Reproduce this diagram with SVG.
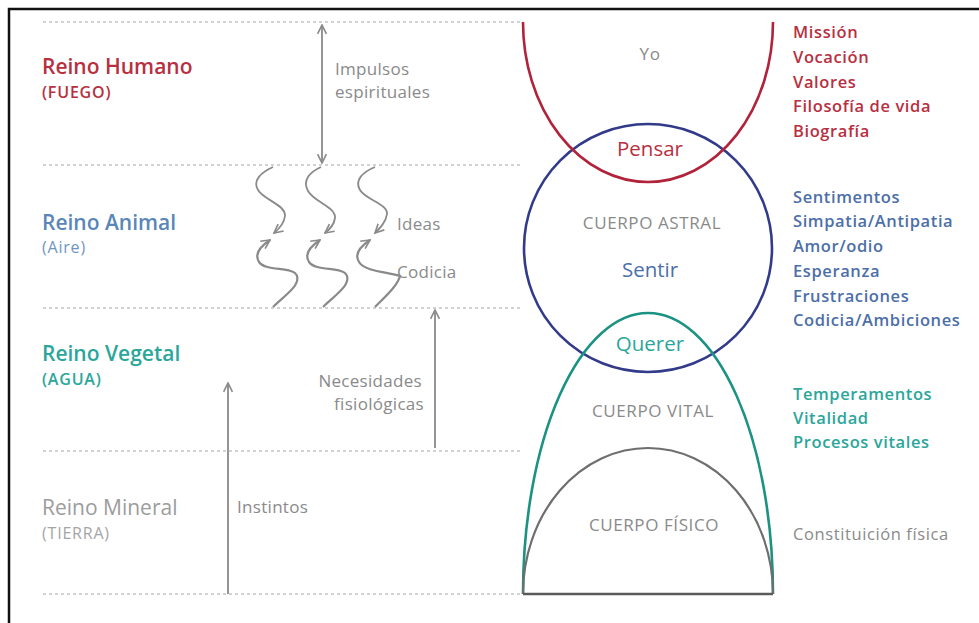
<svg xmlns="http://www.w3.org/2000/svg" width="979" height="623" viewBox="0 0 979 623">
<style>
text{font-family:"Open Sans","Liberation Sans",sans-serif}
.dot{stroke:#d2d2d2;stroke-width:2;stroke-dasharray:3 3;fill:none}
.arr{stroke:#8a8a8a;stroke-width:1.8;fill:none}
.kh{font-size:21px;font-weight:600}
.ks{font-size:16px;font-weight:600;letter-spacing:0.8px}
.lbl{font-size:17px;fill:#8a8a8a;letter-spacing:0.3px}
.body{font-size:17px;fill:#8a8a8a;text-anchor:middle;letter-spacing:0.6px}
.verb{font-size:20.5px;text-anchor:middle}
.lst{font-size:16.5px;font-weight:600;letter-spacing:0.6px}
.red{fill:#b8303f}
.blue{fill:#4d6fa8}
.teal{fill:#2ba69a}
</style>
<defs>
<marker id="ah" viewBox="0 0 10 10" refX="9" refY="5" markerWidth="11" markerHeight="11" markerUnits="userSpaceOnUse" orient="auto-start-reverse">
<path d="M1,1 L9,5 L1,9" fill="none" stroke="#8a8a8a" stroke-width="1.5"/>
</marker>
</defs>
<rect width="979" height="623" fill="#fff"/>
<g id="frame" stroke="#111" stroke-width="2.5" fill="none">
<path d="M9,623 L9,9 L979,9"/>
</g>
<g id="levels">
<line class="dot" x1="43" y1="22" x2="522" y2="22"/>
<line class="dot" x1="43" y1="165" x2="522" y2="165"/>
<line class="dot" x1="43" y1="308" x2="522" y2="308"/>
<line class="dot" x1="43" y1="451" x2="522" y2="451"/>
<line class="dot" x1="43" y1="594" x2="522" y2="594"/>
</g>
<g id="reino-humano"><text class="kh red" x="42" y="74">Reino Humano</text><text class="ks red" x="42" y="98">(FUEGO)</text></g>
<g id="reino-animal"><text class="kh" x="42" y="230" style="fill:#5a86b8">Reino Animal</text><text class="ks" x="42" y="253" style="fill:#6f95c2;font-weight:400">(Aire)</text></g>
<g id="reino-vegetal"><text class="kh teal" x="42" y="361">Reino Vegetal</text><text class="ks teal" x="42" y="385">(AGUA)</text></g>
<g id="reino-mineral"><text class="kh" x="42" y="515" style="fill:#9c9c9c;font-weight:400">Reino Mineral</text><text class="ks" x="42" y="539" style="fill:#a5a5a5;font-weight:400">(TIERRA)</text></g>
<g id="connectors">
<line class="arr" x1="322" y1="25" x2="322" y2="163" marker-start="url(#ah)" marker-end="url(#ah)"/>
<path class="arr" d="M273,167 C262,172 252,180 258,190 C264,200 286,205 285,216 C284,224 279,229 274,233" marker-end="url(#ah)"/>
<path class="arr" d="M321,167 C310,172 302,180 308,191 C314,202 336,207 335,218 C334,225 329,230 325,233" marker-end="url(#ah)"/>
<path class="arr" d="M375,167 C363,172 354,180 360,190 C366,200 388,204 387,214 C386,222 380,228 375,233" marker-end="url(#ah)"/>
<path class="arr" d="M273,307 C284,296 300,286 297,276 C294,266 266,272 259,262 C254,254 261,246 270,240" style="stroke-width:2.2" marker-end="url(#ah)"/>
<path class="arr" d="M323,307 C334,296 350,286 347,276 C344,266 316,272 309,262 C304,254 311,246 320,240" style="stroke-width:2.2" marker-end="url(#ah)"/>
<path class="arr" d="M375,307 C386,296 398,285 400,276 C390,272 365,272 359,262 C354,254 361,246 370,240" style="stroke-width:2.2" marker-end="url(#ah)"/>
<line class="arr" x1="435" y1="448" x2="435" y2="310" marker-end="url(#ah)"/>
<line class="arr" x1="228" y1="594" x2="228" y2="383" marker-end="url(#ah)"/>
</g>
<g id="arrow-labels">
<text class="lbl" x="335" y="75">Impulsos</text>
<text class="lbl" x="335" y="98">espirituales</text>
<text class="lbl" x="397" y="230">Ideas</text>
<text class="lbl" x="397" y="278">Codicia</text>
<text class="lbl" x="422" y="387" text-anchor="end">Necesidades</text>
<text class="lbl" x="424" y="410" text-anchor="end">fisiológicas</text>
<text class="lbl" x="237" y="513">Instintos</text>
</g>
<g id="cuerpo-astral">
<circle cx="648" cy="248" r="124" fill="none" stroke="#323a8a" stroke-width="2.6"/>
<text class="body" x="652" y="229">CUERPO ASTRAL</text>
<text class="verb blue" x="650" y="277">Sentir</text>
</g>
<g id="yo">
<path d="M523,22 A125,160 0 0 0 773,22" fill="none" stroke="#b0233a" stroke-width="2.6"/>
<text class="body" x="650" y="60">Yo</text>
<text class="verb red" x="650" y="156">Pensar</text>
</g>
<g id="cuerpo-vital">
<path d="M523,594 A125,281 0 0 1 773,594" fill="none" stroke="#1b9282" stroke-width="2.6"/>
<text class="verb teal" x="650" y="351">Querer</text>
<text class="body" x="653" y="417">CUERPO VITAL</text>
</g>
<g id="cuerpo-fisico">
<path d="M523,594 A125,146 0 0 1 773,594" fill="none" stroke="#6e6e6e" stroke-width="2.2"/>
<line x1="523" y1="594" x2="773" y2="594" stroke="#5a5a5a" stroke-width="2.6"/>
<text class="body" x="654" y="531">CUERPO FÍSICO</text>
</g>
<g id="lista-yo">
<text class="lst red" x="793" y="38">Missión</text>
<text class="lst red" x="793" y="63">Vocación</text>
<text class="lst red" x="793" y="88">Valores</text>
<text class="lst red" x="793" y="112">Filosofía de vida</text>
<text class="lst red" x="793" y="137">Biografía</text>
</g>
<g id="lista-astral">
<text class="lst blue" x="793" y="203">Sentimentos</text>
<text class="lst blue" x="793" y="227">Simpatia/Antipatia</text>
<text class="lst blue" x="793" y="252">Amor/odio</text>
<text class="lst blue" x="793" y="277">Esperanza</text>
<text class="lst blue" x="793" y="302">Frustraciones</text>
<text class="lst blue" x="793" y="326">Codicia/Ambiciones</text>
</g>
<g id="lista-vital">
<text class="lst teal" x="793" y="400">Temperamentos</text>
<text class="lst teal" x="793" y="424">Vitalidad</text>
<text class="lst teal" x="793" y="448">Procesos vitales</text>
</g>
<g id="lista-fisico">
<text class="lst" x="793" y="540" style="fill:#8a8a8a;font-weight:400">Constituición física</text>
</g>
</svg>
